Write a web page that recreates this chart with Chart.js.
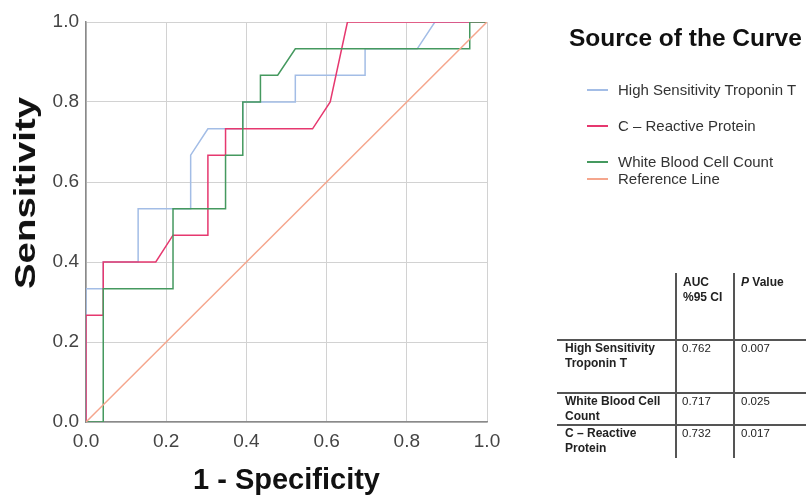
<!DOCTYPE html>
<html>
<head>
<meta charset="utf-8">
<script src="https://cdn.jsdelivr.net/npm/chart.js@4.4.0/dist/chart.umd.min.js"></script>
<style>
  body { margin: 0; background: #fff; font-family: "Liberation Sans", Arial, sans-serif; }
  #wrap { position: relative; width: 806px; height: 495px; overflow: hidden; }
  #roc { position: absolute; left: 0; top: 0; }
  .abs { position: absolute; white-space: nowrap; }
  #ytitle { left: 25px; top: 193px; font-size: 30px; font-weight: bold; color: #111;
            transform: translate(-50%, -50%) rotate(-90deg) scaleX(1.28); }
  #legendTitle { left: 569px; top: 24px; font-size: 24.5px; font-weight: bold; color: #111; }
  .swatch { position: absolute; left: 587px; width: 21px; height: 1.5px; }
  .legText { position: absolute; left: 618px; font-size: 15px; color: #333; line-height: 16px; white-space: nowrap; }
  .hline { position: absolute; height: 1.5px; background: #555; }
  .vline { position: absolute; width: 1.5px; background: #555; }
  .cell { position: absolute; font-size: 11.5px; line-height: 15px; color: #222; white-space: nowrap; }
  .cell.b { font-weight: bold; font-size: 12px; }
</style>
</head>
<body>
<div id="wrap">
  <canvas id="roc" width="806" height="495"></canvas>
  <div id="ytitle" class="abs">Sensitivity</div>
  <div id="legendTitle" class="abs">Source of the Curve</div>
  <div id="legend"></div>
  <div id="table"></div>
</div>
<script>
// ROC coordinates (1 - specificity, sensitivity) for each marker
const tntX = [0, 0, 0.043, 0.043, 0.130, 0.130, 0.261, 0.261, 0.304, 0.391, 0.391, 0.522, 0.522, 0.696, 0.696, 0.826, 0.870, 1];
const tntY = [0, 0.333, 0.333, 0.400, 0.400, 0.533, 0.533, 0.667, 0.733, 0.733, 0.800, 0.800, 0.867, 0.867, 0.933, 0.933, 1, 1];

const crpX = [0, 0, 0.043, 0.043, 0.174, 0.217, 0.304, 0.304, 0.348, 0.348, 0.565, 0.609, 0.652, 1];
const crpY = [0, 0.267, 0.267, 0.400, 0.400, 0.467, 0.467, 0.667, 0.667, 0.733, 0.733, 0.800, 1, 1];

const wbcX = [0, 0.043, 0.043, 0.217, 0.217, 0.348, 0.348, 0.391, 0.391, 0.435, 0.435, 0.478, 0.522, 0.957, 0.957, 1];
const wbcY = [0, 0, 0.333, 0.333, 0.533, 0.533, 0.667, 0.667, 0.800, 0.800, 0.867, 0.867, 0.933, 0.933, 1, 1];

const refX = [0, 1];
const refY = [0, 1];

const seriesNames = ["High Sensitivity Troponin T", "C \u2013 Reactive Protein", "White Blood Cell Count", "Reference Line"];
const seriesColors = ["#a3bde6", "#e6386f", "#45995f", "#f5a68d"];

const axisTicks = [0, 0.2, 0.4, 0.6, 0.8, 1.0];

// summary table
const tableHeader = ["AUC\n%95 CI", "P Value"];
const tableRows = ["High Sensitivity\nTroponin T", "White Blood Cell\nCount", "C \u2013 Reactive\nProtein"];
const aucValues = ["0.762", "0.717", "0.732"];
const pValues = ["0.007", "0.025", "0.017"];

const toPoints = (xs, ys) => xs.map((x, i) => ({x: x, y: ys[i]}));

const allX = [tntX, crpX, wbcX, refX];
const allY = [tntY, crpY, wbcY, refY];

const datasets = seriesNames.map((name, i) => ({
    label: name,
    data: toPoints(allX[i], allY[i]),
    borderColor: seriesColors[i],
    backgroundColor: seriesColors[i],
    borderWidth: 1.5,
    showLine: true,
    pointRadius: 0,
    tension: 0,
    order: seriesNames.length - i
}));

const tickFont = {family: "Liberation Sans", size: 19};

new Chart(document.getElementById("roc").getContext("2d"), {
    type: "scatter",
    data: {datasets: datasets},
    options: {
        responsive: false,
        animation: false,
        layout: {padding: {left: 0, right: 319, top: 22, bottom: 0}},
        plugins: {legend: {display: false}, tooltip: {enabled: false}},
        scales: {
            x: {
                type: "linear", min: 0, max: 1,
                afterBuildTicks: (scale) => { scale.ticks = axisTicks.map(v => ({value: v})); },
                afterFit: (scale) => { scale.height = 73; },
                ticks: {color: "#444", font: tickFont, padding: 8, maxRotation: 0,
                        callback: (v) => v.toFixed(1)},
                grid: {color: "#d2d2d2", lineWidth: 1, drawTicks: false},
                border: {color: "#8a8a8a", width: 1.5},
                title: {display: true, text: "1 - Specificity", color: "#111",
                        font: {family: "Liberation Sans", size: 29, weight: "bold", lineHeight: 1},
                        padding: {top: 0, bottom: 0}}
            },
            y: {
                type: "linear", min: 0, max: 1,
                afterBuildTicks: (scale) => { scale.ticks = axisTicks.map(v => ({value: v})); },
                afterFit: (scale) => { scale.width = 86; },
                ticks: {color: "#444", font: tickFont, padding: 7,
                        callback: (v) => v.toFixed(1)},
                grid: {color: "#d2d2d2", lineWidth: 1, drawTicks: false},
                border: {color: "#8a8a8a", width: 1.5}
            }
        }
    }
});

// legend entries
const legendY = [90, 126, 162, 179];
const legend = document.getElementById("legend");
seriesNames.forEach((name, i) => {
    const sw = document.createElement("div");
    sw.className = "swatch";
    sw.style.top = (legendY[i] - 1) + "px";
    sw.style.background = seriesColors[i];
    legend.appendChild(sw);
    const t = document.createElement("div");
    t.className = "legText";
    t.style.top = (legendY[i] - 8) + "px";
    t.textContent = name;
    legend.appendChild(t);
});

// table with AUC and p values
const table = document.getElementById("table");
const addLine = (cls, left, top, size) => {
    const d = document.createElement("div");
    d.className = cls;
    d.style.left = left + "px";
    d.style.top = top + "px";
    if (cls === "hline") d.style.width = size + "px"; else d.style.height = size + "px";
    table.appendChild(d);
};
const addCell = (text, left, top, bold, html) => {
    const d = document.createElement("div");
    d.className = bold ? "cell b" : "cell";
    d.style.left = left + "px";
    d.style.top = top + "px";
    if (html) d.innerHTML = html; else d.innerText = text;
    table.appendChild(d);
};

addLine("vline", 675, 273, 185);
addLine("vline", 733, 273, 185);
addLine("hline", 557, 339, 249);
addLine("hline", 557, 392, 249);
addLine("hline", 557, 424, 249);

addCell(tableHeader[0], 683, 275, true);
addCell(tableHeader[1], 741, 275, true, "<i>P</i>" + tableHeader[1].slice(1));

const rowTops = [341, 394, 426];
tableRows.forEach((label, i) => {
    addCell(label, 565, rowTops[i], true);
    addCell(aucValues[i], 682, rowTops[i], false);
    addCell(pValues[i], 741, rowTops[i], false);
});
</script>
</body>
</html>
